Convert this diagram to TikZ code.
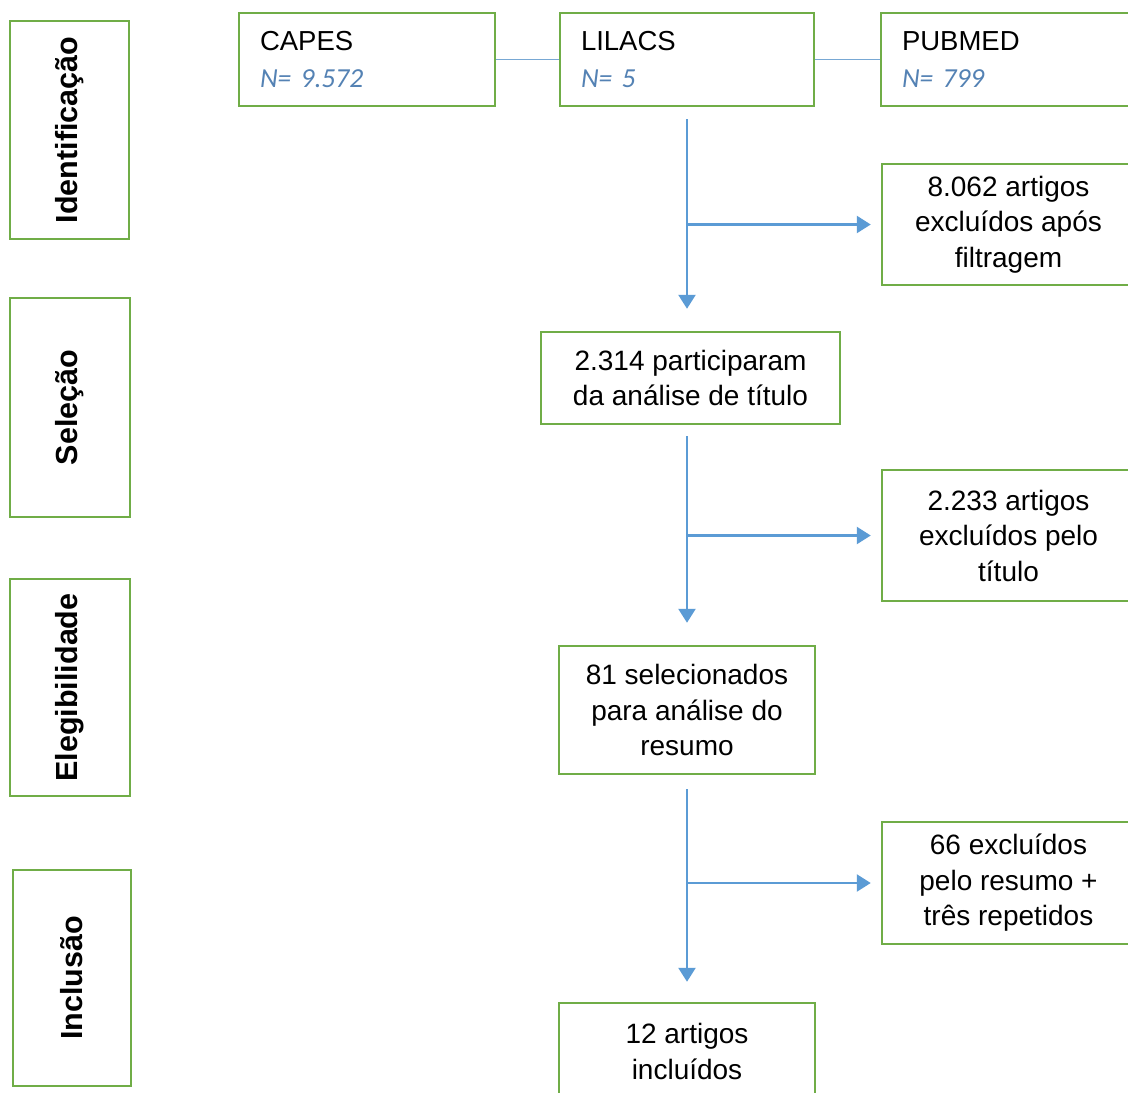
\documentclass[tikz,border=0pt]{standalone}
\usepackage{fontspec}
\usepackage{graphicx}
\setmainfont{Liberation Sans}
\newfontfamily\nfont{Carlito}
\usetikzlibrary{arrows.meta}
\definecolor{boxgreen}{RGB}{112,173,71}
\definecolor{flowblue}{RGB}{91,155,213}
\definecolor{linkblue}{RGB}{120,168,212}
\definecolor{ntext}{RGB}{84,130,180}
\begin{document}
\begin{tikzpicture}[x=1pt,y=-1pt,
  box/.style={draw=boxgreen, line width=2.5pt, inner sep=0pt, fill=white},
  body/.style={box, align=center, font=\fontsize{28}{35.5}\selectfont},
  src/.style={box, align=left, inner xsep=21pt, minimum height=93pt, font=\fontsize{27.5}{37}\selectfont},
  phase/.style={box, font=\bfseries\fontsize{30.5}{35}\selectfont},
  flow/.style={draw=flowblue, line width=2.5pt},
  link/.style={draw=linkblue, line width=1.8pt},
  arr/.style={flow, -{Triangle[length=14pt,width=17pt]}}]
\clip (0,0) rectangle (1128,1093);
\fill[white] (0,0) rectangle (1128,1093);

% phase labels
\node[phase, minimum width=119pt, minimum height=218pt] (ident) at (69.5,130) {\rotatebox{90}{Identificação}};
\node[phase, minimum width=120pt, minimum height=219pt] (selec) at (70,407.5) {\rotatebox{90}{Seleção}};
\node[phase, minimum width=120pt, minimum height=217pt] (eleg) at (70,687.5) {\rotatebox{90}{Elegibilidade}};
\node[phase, minimum width=118pt, minimum height=216pt] (incl) at (72,978) {\rotatebox{90}{Inclusão}};

% sources
\node[src, minimum width=256pt, text width=214pt] (capes) at (367,59.5) {CAPES\\{\nfont\itshape\color{ntext}N= 9.572}};
\node[src, minimum width=254pt, text width=212pt] (lilacs) at (687,59.5) {LILACS\\{\nfont\itshape\color{ntext}N= 5}};
\node[src, minimum width=254pt, text width=212pt] (pubmed) at (1008,59.5) {PUBMED\\{\nfont\itshape\color{ntext}N= 799}};

% flow boxes
\node[body, minimum width=253pt, minimum height=121pt] (e1) at (1008.5,224.5) {8.062 artigos\\excluídos após\\filtragem};
\node[body, minimum width=299pt, minimum height=92pt] (n2314) at (690.5,378) {2.314 participaram\\da análise de título};
\node[body, minimum width=253pt, minimum height=131pt] (e2) at (1008.5,535.5) {2.233 artigos\\excluídos pelo\\título};
\node[body, minimum width=256pt, minimum height=128pt] (n81) at (687,710) {81 selecionados\\para análise do\\resumo};
\node[body, minimum width=253pt, minimum height=122pt] (e3) at (1008.5,883) {66 excluídos\\pelo resumo +\\três repetidos};
\node[body, minimum width=256pt, minimum height=97pt] (n12) at (687,1051.5) {12 artigos\\incluídos};

% connectors
\draw[link] (capes.east) -- (lilacs.west);
\draw[link] (lilacs.east) -- (pubmed.west);

\draw[arr, shorten <=12pt, shorten >=22pt] (lilacs.south) -- (lilacs.south |- n2314.north);
\draw[arr, shorten >=10pt] (lilacs.south |- e1.west) -- (e1.west);

\draw[arr, shorten <=11pt, shorten >=22pt] (lilacs.south |- n2314.south) -- (lilacs.south |- n81.north);
\draw[arr, shorten >=10pt] (lilacs.south |- e2.west) -- (e2.west);

\draw[arr, shorten <=14pt, shorten >=20pt] (lilacs.south |- n81.south) -- (lilacs.south |- n12.north);
\draw[arr, shorten >=10pt] (lilacs.south |- e3.west) -- (e3.west);
\end{tikzpicture}
\end{document}
